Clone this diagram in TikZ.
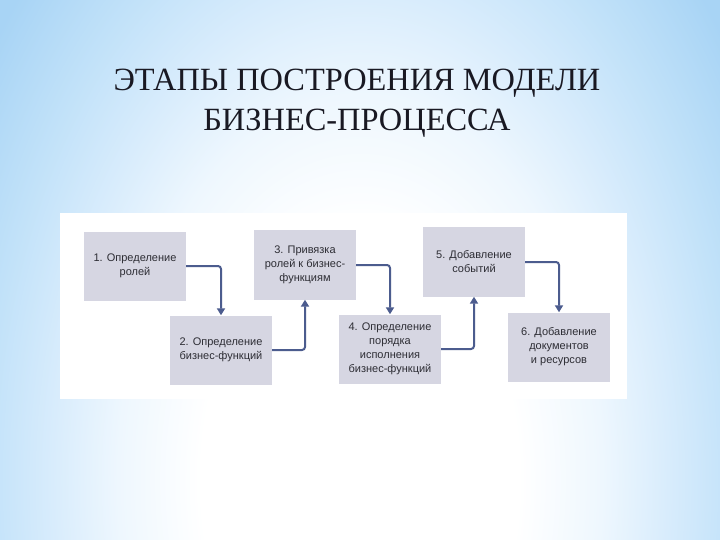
\documentclass[tikz,border=0pt]{standalone}
\usepackage{fontspec}
\setmainfont{Liberation Serif}
\newfontfamily\boxfont{Liberation Sans}
\usetikzlibrary{arrows.meta}
\definecolor{bgblue}{RGB}{168,212,245}
\definecolor{bgmid}{RGB}{194,226,249}
\definecolor{bgsoft}{RGB}{216,236,252}
\definecolor{bglight}{RGB}{238,247,254}
\definecolor{stepfill}{RGB}{214,214,226}
\definecolor{flowcol}{RGB}{76,92,142}
\definecolor{stepink}{RGB}{45,45,52}
\pgfdeclareradialshading{slidebg}{\pgfpoint{0bp}{0bp}}{%
  color(0bp)=(white); color(9bp)=(white); color(13.75bp)=(bglight);
  color(17.5bp)=(bgsoft); color(21.25bp)=(bgmid); color(26bp)=(bgblue);
  color(40bp)=(bgblue)}
\tikzset{
  stepbox/.style={fill=stepfill, minimum width=102pt, minimum height=69pt,
    inner sep=2pt, align=center, text=stepink,
    font=\boxfont\fontsize{11}{14}\selectfont},
  flow/.style={draw=flowcol, line width=2pt, rounded corners=3pt,
    -{Triangle[width=8pt,length=7pt]}}
}
\begin{document}
\begin{tikzpicture}[x=1pt,y=-1pt]
          \useasboundingbox (0,0) rectangle (720,540);
          \begin{scope}
            \clip (0,0) rectangle (720,540);
            \shade[shading=slidebg] (-80,-220) rectangle (800,1180);
          \end{scope}

          \node[font=\fontsize{32.4}{40}\selectfont, align=center, text={rgb,255:red,25;green,25;blue,35}]
            (title) at (357,103) {ЭТАПЫ ПОСТРОЕНИЯ МОДЕЛИ\\БИЗНЕС-ПРОЦЕССА};

          \fill[white] (60,213) rectangle (627,399);

          \begin{scope}
            \node[stepbox] (s1) at (135,266) {1. Определение\\ролей};
            \node[stepbox] (s2) at (221,350) {2. Определение\\бизнес-функций};
            \node[stepbox] (s3) at (305,265) {3. Привязка\\ролей к бизнес-\\функциям};
            \node[stepbox] (s4) at (390,349) {4. Определение\\порядка\\исполнения\\бизнес-функций};
            \node[stepbox] (s5) at (474,262) {5. Добавление\\событий};
            \node[stepbox] (s6) at (559,347) {6. Добавление\\документов\\и ресурсов};
          \end{scope}

          \begin{scope}
            \draw[flow] (s1.east) -| (s2.north);
            \draw[flow] (s2.east) -| (s3.south);
            \draw[flow] (s3.east) -| (s4.north);
            \draw[flow] (s4.east) -| (s5.south);
            \draw[flow] (s5.east) -| (s6.north);
          \end{scope}
        \end{tikzpicture}
\end{document}
